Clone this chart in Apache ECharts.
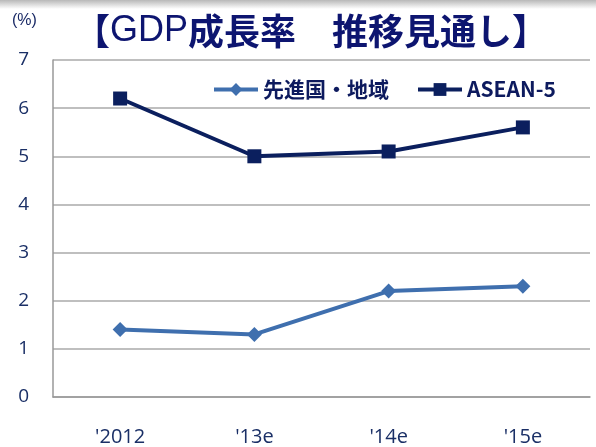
<!DOCTYPE html>
<html>
<head>
<meta charset="utf-8">
<script src="https://cdn.jsdelivr.net/npm/echarts@6/dist/echarts.min.js"></script>
<style>
  html, body { margin: 0; padding: 0; background: #fff; }
  #main { width: 596px; height: 447px; }
</style>
</head>
<body>
<div id="main"></div>
<script>
// chart data
const years = ["'2012", "'13e", "'14e", "'15e"];
const advanced = [1.4, 1.3, 2.2, 2.3];
const asean5 = [6.2, 5.0, 5.1, 5.6];
const yTicks = [0, 1, 2, 3, 4, 5, 6, 7];

const chart = echarts.init(document.getElementById("main"));
const font = "'Noto Sans CJK JP', 'Liberation Sans', sans-serif";

const option = {
  backgroundColor: "#fff",
  animation: false,
  graphic: [
    {
      type: "rect",
      left: 0, top: 0,
      shape: { width: 596, height: 9 },
      style: {
        fill: new echarts.graphic.LinearGradient(0, 0, 0, 1, [
          { offset: 0, color: "#b8b8b8" },
          { offset: 1, color: "#ffffff" },
        ]),
      },
    },
    {
      type: "text",
      left: 12, top: 13,
      style: { text: "(%)", fill: "#1a2a66", font: "16px 'Liberation Sans', sans-serif" },
    },
  ],
  title: {
    text: "{b|【}{n|GDP}{b|成長率　推移見通し】}",
    left: 306, top: 8, textAlign: "center",
    textStyle: {
      rich: {
        b: { color: "#0d1570", fontSize: 36, fontWeight: "bold", fontFamily: font },
        n: { color: "#0d1570", fontSize: 36, fontWeight: "normal", fontFamily: "'Liberation Sans', sans-serif" },
      },
    },
  },
  legend: {
    top: 74, left: 207,
    itemWidth: 44, itemHeight: 16, itemGap: 27,
    lineStyle: { width: 4 },
    textStyle: { color: "#0d1a5e", fontSize: 21, fontWeight: "bold", fontFamily: font },
    data: ["先進国・地域", "ASEAN-5"],
  },
  grid: { left: 53, right: 6, top: 60, bottom: 50 },
  xAxis: {
    type: "category",
    data: years,
    boundaryGap: true,
    axisLine: { lineStyle: { color: "#999", width: 1.5 } },
    axisTick: { show: false },
    axisLabel: { color: "#1a2f66", fontSize: 20, margin: 30, fontFamily: "'Open Sans', sans-serif" },
  },
  yAxis: {
    type: "value",
    min: yTicks[0], max: yTicks[yTicks.length - 1], interval: 1,
    axisLine: { show: true, lineStyle: { color: "#999", width: 1.5 } },
    axisTick: { show: false },
    splitLine: { lineStyle: { color: "#aaa", width: 1.5 } },
    axisLabel: { color: "#1a2f66", fontSize: 19, margin: 24, fontFamily: "'Open Sans', sans-serif" },
  },
  series: [
    {
      name: "先進国・地域",
      type: "line",
      data: advanced,
      symbol: "diamond",
      symbolSize: 15,
      lineStyle: { color: "#3f6fae", width: 4 },
      itemStyle: { color: "#3f6fae" },
    },
    {
      name: "ASEAN-5",
      type: "line",
      data: asean5,
      symbol: "rect",
      symbolSize: 14,
      lineStyle: { color: "#0b1f5e", width: 4 },
      itemStyle: { color: "#0b1f5e" },
    },
  ],
};

chart.setOption(option);
</script>
</body>
</html>
